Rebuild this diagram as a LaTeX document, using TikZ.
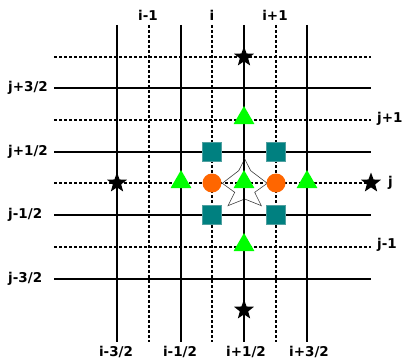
\documentclass[tikz,border=0pt]{standalone}
\usepackage{fontspec}
\setmainfont{DejaVu Sans}
\usetikzlibrary{shapes.geometric}
\definecolor{tealc}{RGB}{0,128,128}
\definecolor{tealb}{RGB}{80,160,160}
\definecolor{orangec}{RGB}{255,102,0}
\tikzset{
  solidln/.style={line width=1.5pt, black},
  dashln/.style={line width=1.4pt, black, dash pattern=on 3pt off 2pt},
  lbl/.style={font=\bfseries\fontsize{13.5}{16}\selectfont, inner sep=0pt},
  bstar/.style={star, star points=5, star point ratio=2.4, fill=black, minimum size=21pt, inner sep=0pt},
  gtri/.style={isosceles triangle, isosceles triangle apex angle=60, shape border rotate=90, fill=green, minimum height=18pt, inner sep=0pt},
  ocirc/.style={circle, fill=orangec, minimum size=19pt, inner sep=0pt},
  tsq/.style={rectangle, fill=tealc, draw=tealb, line width=0.5pt, minimum size=19pt, inner sep=0pt},
}
\begin{document}
\begin{tikzpicture}[x=1pt,y=-1pt]
\useasboundingbox (0,0) rectangle (417,361);
% vertical lines
\foreach \x in {117,181,244,307} \draw[solidln] (\x,25) -- (\x,342);
\foreach \x in {149,212,276} \draw[dashln] (\x,25) -- (\x,342);
% horizontal lines
\foreach \y in {88,152,215,279} \draw[solidln] (54,\y) -- (371,\y);
\foreach \y in {57,120,183,247} \draw[dashln] (54,\y) -- (371,\y);
% labels
\node[lbl] (ti1) at (148,15) {i-1};
\node[lbl] (ti) at (212,15) {i};
\node[lbl] (ti2) at (275,15) {i+1};
\node[lbl, anchor=west] (l1) at (8,88) {j+3/2};
\node[lbl, anchor=west] (l2) at (8,152) {j+1/2};
\node[lbl, anchor=west] (l3) at (8,215) {j-1/2};
\node[lbl, anchor=west] (l4) at (8,279) {j-3/2};
\node[lbl, anchor=west] (r1) at (377,119) {j+1};
\node[lbl, anchor=west] (r2) at (388,183) {j};
\node[lbl, anchor=west] (r3) at (377,245) {j-1};
\node[lbl] (b1) at (116,352) {i-3/2};
\node[lbl] (b2) at (180,352) {i-1/2};
\node[lbl] (b3) at (246,352) {i+1/2};
\node[lbl] (b4) at (309,352) {i+3/2};
% hollow star
\draw[line width=0.6pt, draw=black!75, fill=white] (244.7,159) -- (250.7,170.7) -- (267.3,183.3) -- (254.7,192.3) -- (261.3,205.7) -- (244.7,199) -- (228,205.7) -- (234.7,192.3) -- (222.3,183.3) -- (238.7,170.7) -- cycle;
\draw[solidln] (244,159) -- (244,205);
\draw[dashln] (225,183) -- (265,183);
% black stars
\node[bstar] (s1) at (244,57) {};
\node[bstar] (s2) at (117,183) {};
\node[bstar] (s3) at (371,183) {};
\node[bstar] (s4) at (244,310) {};
% squares
\node[tsq] (q1) at (212,152) {};
\node[tsq] (q2) at (276,152) {};
\node[tsq] (q3) at (212,215) {};
\node[tsq] (q4) at (276,215) {};
% circles
\node[ocirc] (c1) at (212,183) {};
\node[ocirc] (c2) at (276,183) {};
% triangles
\node[gtri] (t1) at (244,118) {};
\node[gtri] (t2) at (181,182) {};
\node[gtri] (t3) at (244,182) {};
\node[gtri] (t4) at (307,182) {};
\node[gtri] (t5) at (244,245) {};
\end{tikzpicture}
\end{document}
